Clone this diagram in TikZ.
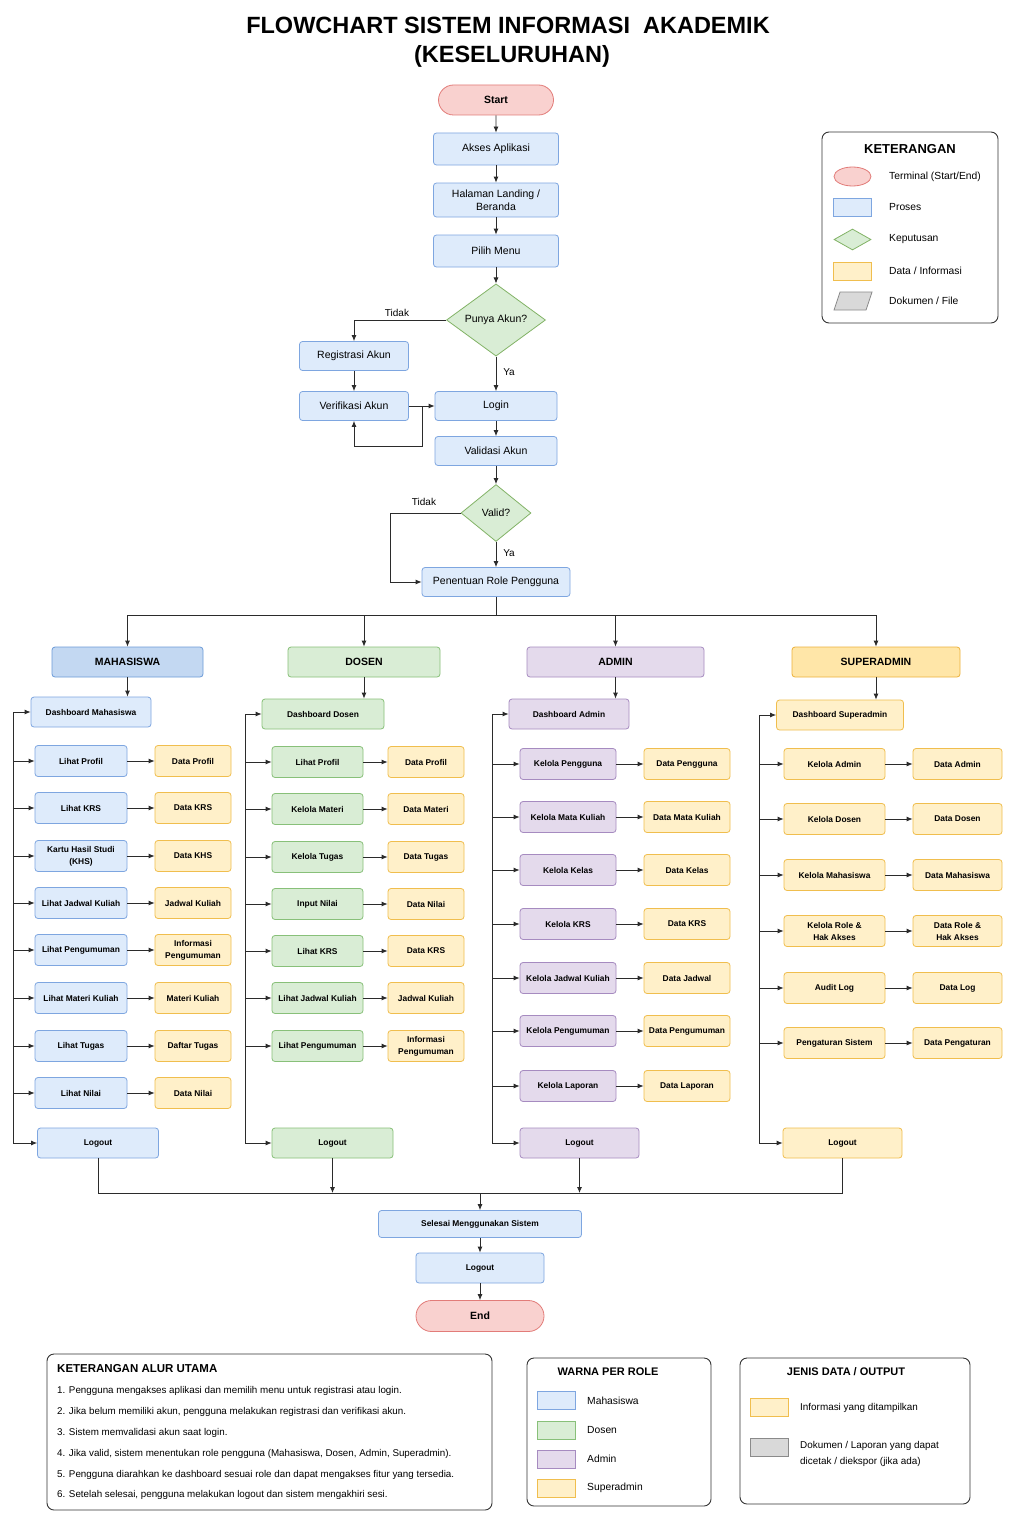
\documentclass[tikz,border=0pt]{standalone}
\usepackage{fontspec}
\setmainfont{Liberation Sans}
\usetikzlibrary{shapes.geometric,shapes.misc,arrows.meta,calc}
\definecolor{blueF}{HTML}{DEEBFB}
\definecolor{blueD}{HTML}{7EA6E0}
\definecolor{blueH}{HTML}{C3D8F2}
\definecolor{blueHD}{HTML}{6C9BD8}
\definecolor{greenF}{HTML}{D9EDD5}
\definecolor{greenD}{HTML}{88C079}
\definecolor{purpF}{HTML}{E4DAEC}
\definecolor{purpD}{HTML}{A68BC0}
\definecolor{yelF}{HTML}{FFF0C9}
\definecolor{yelD}{HTML}{F0BE4E}
\definecolor{yelH}{HTML}{FFE6A8}
\definecolor{yelHD}{HTML}{EDB23C}
\definecolor{redF}{HTML}{F9D1CF}
\definecolor{redD}{HTML}{E27C79}
\definecolor{grayF}{HTML}{D9D9D9}
\definecolor{grayD}{HTML}{8A8A8A}
\definecolor{diaF}{HTML}{D9EDD5}
\definecolor{diaD}{HTML}{82B366}
\definecolor{lineC}{HTML}{2B2B2B}
\tikzset{
  boxbase/.style={rectangle, rounded corners=3pt, line width=0.8pt, inner sep=1pt, align=center, text=black},
  flowbox/.style={boxbase, draw=blueD, fill=blueF, font=\fontsize{10.5}{13}\selectfont, minimum height=30},
  termbox/.style={rounded rectangle, draw=redD, fill=redF, line width=0.8pt, inner sep=0pt, font=\bfseries\fontsize{10.5}{12}\selectfont},
  decbox/.style={diamond, draw=diaD, fill=diaF, line width=0.8pt, inner sep=0pt, font=\fontsize{10.5}{12}\selectfont},
  smbox/.style={boxbase, font=\bfseries\fontsize{8.4}{12}\selectfont, minimum height=31},
  mpbox/.style={smbox, draw=blueD, fill=blueF, minimum width=92},
  dpbox/.style={smbox, draw=greenD, fill=greenF, minimum width=91},
  apbox/.style={smbox, draw=purpD, fill=purpF, minimum width=96},
  spbox/.style={smbox, draw=yelD, fill=yelF, minimum width=101},
  datbox/.style={smbox, draw=yelD, fill=yelF},
  hdrbox/.style={boxbase, font=\bfseries\fontsize{10.5}{12}\selectfont, minimum height=30},
  arr/.style={-{Latex[length=6pt,width=5pt]}, line width=0.8pt, draw=lineC},
  ln/.style={line width=0.8pt, draw=lineC},
  lbl/.style={font=\fontsize{10}{12}\selectfont, inner sep=0pt},
  legtxt/.style={font=\fontsize{10.3}{12}\selectfont, inner sep=0pt, anchor=west},
  noteTxt/.style={font=\fontsize{9.8}{11}\selectfont, inner sep=0pt, anchor=west},
  panel/.style={draw=black!80, rounded corners=7pt, line width=0.9pt, fill=white},
  swatch/.style={rectangle, line width=0.8pt, minimum width=38, minimum height=18, inner sep=0pt}
}
\begin{document}
\begin{tikzpicture}[x=1pt,y=-1pt]
\path[use as bounding box, fill=white] (0,0) rectangle (1024,1536);

% Title
\node[font=\bfseries\fontsize{23.5}{28}\selectfont, inner sep=0pt] (title1) at (508,25) {FLOWCHART SISTEM INFORMASI\ \ AKADEMIK};
\node[font=\bfseries\fontsize{23.5}{28}\selectfont, inner sep=0pt] (title2) at (512,56) {(KESELURUHAN)};

% Main flow
\node[termbox, minimum width=115, minimum height=30] (start) at (496,100) {Start};
\node[flowbox, minimum width=125, minimum height=32] (akses) at (496,149) {Akses Aplikasi};
\node[flowbox, minimum width=125, minimum height=34] (landing) at (496,200) {Halaman Landing /\\Beranda};
\node[flowbox, minimum width=125, minimum height=32] (pilih) at (496,251) {Pilih Menu};
\node[decbox, minimum width=99, minimum height=72] (punya) at (496,320) {Punya Akun?};
\node[flowbox, minimum width=109, minimum height=29] (regis) at (354,356) {Registrasi Akun};
\node[flowbox, minimum width=109, minimum height=29] (verif) at (354,406) {Verifikasi Akun};
\node[flowbox, minimum width=122, minimum height=29] (login) at (496,406) {Login};
\node[flowbox, minimum width=122, minimum height=29] (valid) at (496,451) {Validasi Akun};
\node[decbox, minimum width=70, minimum height=57] (validq) at (496,513) {Valid?};
\node[flowbox, minimum width=148, minimum height=29] (role) at (496,582) {Penentuan Role Pengguna};

\draw[arr] (start) -- (akses);
\draw[arr] (akses) -- (landing);
\draw[arr] (landing) -- (pilih);
\draw[arr] (pilih) -- (punya);
\draw[arr] (punya.west) -| (regis.north);
\node[lbl] (tidak1) at (397,313) {Tidak};
\draw[arr] (punya) -- (login);
\node[lbl] (ya1) at (509,372) {Ya};
\draw[arr] (regis) -- (verif);
\draw[arr] (verif) -- (login);
\coordinate (vj) at (422,406);
\coordinate (vl) at (422,446);
\draw[arr] (vj) -- (vl) -| (verif.south);
\draw[arr] (login) -- (valid);
\draw[arr] (valid) -- (validq);
\coordinate (vt) at (390,513);
\draw[arr] (validq.west) -- (vt) |- (role.west);
\node[lbl] (tidak2) at (424,502) {Tidak};
\draw[arr] (validq) -- (role);
\node[lbl] (ya2) at (509,553) {Ya};

% Role headers
\node[hdrbox, draw=blueHD, fill=blueH, minimum width=151] (mh) at (127.5,662) {MAHASISWA};
\node[hdrbox, draw=greenD, fill=greenF, minimum width=152] (dh) at (364,662) {DOSEN};
\node[hdrbox, draw=purpD, fill=purpF, minimum width=177] (ah) at (615.5,662) {ADMIN};
\node[hdrbox, draw=yelHD, fill=yelH, minimum width=168] (sh) at (876,662) {SUPERADMIN};

\coordinate (rj) at (496,615);
\coordinate (rl) at (127.5,615);
\coordinate (rr) at (876,615);
\draw[ln] (role.south) -- (rj);
\draw[ln] (rl) -- (rr);
\draw[arr] (rl) -- (mh.north);
\draw[arr] (dh.north |- rj) -- (dh.north);
\draw[arr] (ah.north |- rj) -- (ah.north);
\draw[arr] (rr) -- (sh.north);

% Dashboards
\node[mpbox, minimum width=120, minimum height=30] (mdash) at (91,712) {Dashboard Mahasiswa};
\node[dpbox, minimum width=122, minimum height=30] (ddash) at (323,714) {Dashboard Dosen};
\node[apbox, minimum width=120, minimum height=30] (adash) at (569,714) {Dashboard Admin};
\node[spbox, minimum width=127, minimum height=30] (sdash) at (840,715) {Dashboard Superadmin};
\draw[arr] (mh.south) -- (mh.south |- mdash.north);
\draw[arr] (dh.south) -- (dh.south |- ddash.north);
\draw[arr] (ah.south) -- (ah.south |- adash.north);
\draw[arr] (sh.south) -- (sh.south |- sdash.north);

% Logouts
\node[mpbox, minimum width=121, minimum height=30] (mlog) at (98,1143) {Logout};
\node[dpbox, minimum width=121, minimum height=30] (dlog) at (332.5,1143) {Logout};
\node[apbox, minimum width=119, minimum height=30] (alog) at (579.5,1143) {Logout};
\node[spbox, minimum width=119, minimum height=30] (slog) at (842.5,1143) {Logout};

% Buses
\coordinate (mbus) at (13,712);  \coordinate (mbusb) at (13,1143);
\coordinate (dbus) at (245,714); \coordinate (dbusb) at (245,1143);
\coordinate (abus) at (492,714); \coordinate (abusb) at (492,1143);
\coordinate (sbus) at (759,715); \coordinate (sbusb) at (759,1143);
\draw[ln] (mbus) -- (mbusb);
\draw[ln] (dbus) -- (dbusb);
\draw[ln] (abus) -- (abusb);
\draw[ln] (sbus) -- (sbusb);
\draw[arr] (mbus) -- (mdash.west);
\draw[arr] (dbus) -- (ddash.west);
\draw[arr] (abus) -- (adash.west);
\draw[arr] (sbus) -- (sdash.west);
\draw[arr] (mbusb) -- (mlog.west);
\draw[arr] (dbusb) -- (dlog.west);
\draw[arr] (abusb) -- (alog.west);
\draw[arr] (sbusb) -- (slog.west);

% Mahasiswa items
\foreach \yy/\aa/\bb [count=\i] in {761/Lihat Profil/Data Profil, 808/Lihat KRS/Data KRS, 856/{Kartu Hasil Studi\\(KHS)}/Data KHS, 903/Lihat Jadwal Kuliah/Jadwal Kuliah, 950/Lihat Pengumuman/{Informasi\\Pengumuman}, 998/Lihat Materi Kuliah/Materi Kuliah, 1046/Lihat Tugas/Daftar Tugas, 1093/Lihat Nilai/Data Nilai}
{
  \node[mpbox] (mp\i) at (81,\yy) {\aa};
  \node[datbox, minimum width=76] (md\i) at (193,\yy) {\bb};
  \draw[arr] (mp\i) -- (md\i);
  \draw[arr] (mp\i.west -| mbus) -- (mp\i.west);
}

% Dosen items
\foreach \yy/\aa/\bb [count=\i] in {762/Lihat Profil/Data Profil, 809/Kelola Materi/Data Materi, 857/Kelola Tugas/Data Tugas, 904/Input Nilai/Data Nilai, 951/Lihat KRS/Data KRS, 998/Lihat Jadwal Kuliah/Jadwal Kuliah, 1046/Lihat Pengumuman/{Informasi\\Pengumuman}}
{
  \node[dpbox] (dp\i) at (317.5,\yy) {\aa};
  \node[datbox, minimum width=76] (dd\i) at (426,\yy) {\bb};
  \draw[arr] (dp\i) -- (dd\i);
  \draw[arr] (dp\i.west -| dbus) -- (dp\i.west);
}

% Admin items
\foreach \yy/\aa/\bb [count=\i] in {764/Kelola Pengguna/Data Pengguna, 817/Kelola Mata Kuliah/Data Mata Kuliah, 870/Kelola Kelas/Data Kelas, 924/Kelola KRS/Data KRS, 978/Kelola Jadwal Kuliah/Data Jadwal, 1031/Kelola Pengumuman/Data Pengumuman, 1086/Kelola Laporan/Data Laporan}
{
  \node[apbox] (ap\i) at (568,\yy) {\aa};
  \node[datbox, minimum width=86] (ad\i) at (687,\yy) {\bb};
  \draw[arr] (ap\i) -- (ad\i);
  \draw[arr] (ap\i.west -| abus) -- (ap\i.west);
}

% Superadmin items
\foreach \yy/\aa/\bb [count=\i] in {764/Kelola Admin/Data Admin, 819/Kelola Dosen/Data Dosen, 875/Kelola Mahasiswa/Data Mahasiswa, 931/{Kelola Role \&\\Hak Akses}/{Data Role \&\\Hak Akses}, 988/Audit Log/Data Log, 1043/Pengaturan Sistem/Data Pengaturan}
{
  \node[spbox] (sp\i) at (834.5,\yy) {\aa};
  \node[datbox, minimum width=89] (sd\i) at (957.5,\yy) {\bb};
  \draw[arr] (sp\i) -- (sd\i);
  \draw[arr] (sp\i.west -| sbus) -- (sp\i.west);
}

% End section
\node[smbox, draw=blueD, fill=blueF, minimum width=203, minimum height=27] (sel) at (480,1224) {Selesai Menggunakan Sistem};
\node[smbox, draw=blueD, fill=blueF, minimum width=128, minimum height=30] (flog) at (480,1268) {Logout};
\node[termbox, minimum width=128, minimum height=31] (fin) at (480,1316) {End};
\coordinate (jy) at (480,1193);
\draw[ln] (mlog.south) -- (mlog.south |- jy) -- (slog.south |- jy) -- (slog.south);
\draw[arr] (dlog.south) -- (dlog.south |- jy);
\draw[arr] (alog.south) -- (alog.south |- jy);
\draw[arr] (jy) -- (sel.north);
\draw[arr] (sel) -- (flog);
\draw[arr] (flog) -- (fin);

% Legend KETERANGAN
\draw[panel] (822,132) rectangle (998,323);
\node[font=\bfseries\fontsize{13}{15}\selectfont, inner sep=0pt] (legT) at (910,149) {KETERANGAN};
\node[ellipse, draw=redD, fill=redF, line width=0.8pt, minimum width=37, minimum height=19, inner sep=0pt] (legE) at (852.5,176.5) {};
\node[swatch, draw=blueD, fill=blueF] (legP) at (852.5,207) {};
\node[diamond, draw=diaD, fill=diaF, line width=0.8pt, minimum width=37, minimum height=21, inner sep=0pt] (legD) at (852.5,239.5) {};
\node[swatch, draw=yelD, fill=yelF] (legY) at (852.5,271) {};
\draw[draw=grayD, fill=grayF, line width=0.8pt] (834,310) -- (840,292) -- (872,292) -- (866,310) -- cycle;
\node[legtxt] (legt1) at (889,177) {Terminal (Start/End)};
\node[legtxt] (legt2) at (889,207) {Proses};
\node[legtxt] (legt3) at (889,239) {Keputusan};
\node[legtxt] (legt4) at (889,271) {Data / Informasi};
\node[legtxt] (legt5) at (889,301) {Dokumen / File};

% Bottom: Keterangan alur utama
\draw[panel] (47,1354) rectangle (492,1510);
\node[font=\bfseries\fontsize{11.5}{14}\selectfont, inner sep=0pt, anchor=west] (alurT) at (57,1369) {KETERANGAN ALUR UTAMA};
\node[noteTxt] (n1) at (57,1391) {1. Pengguna mengakses aplikasi dan memilih menu untuk registrasi atau login.};
\node[noteTxt] (n2) at (57,1412) {2. Jika belum memiliki akun, pengguna melakukan registrasi dan verifikasi akun.};
\node[noteTxt] (n3) at (57,1433) {3. Sistem memvalidasi akun saat login.};
\node[noteTxt] (n4) at (57,1454) {4. Jika valid, sistem menentukan role pengguna (Mahasiswa, Dosen, Admin, Superadmin).};
\node[noteTxt] (n5) at (57,1475) {5. Pengguna diarahkan ke dashboard sesuai role dan dapat mengakses fitur yang tersedia.};
\node[noteTxt] (n6) at (57,1495) {6. Setelah selesai, pengguna melakukan logout dan sistem mengakhiri sesi.};

% Bottom: warna per role
\draw[panel] (527,1358) rectangle (711,1506);
\node[font=\bfseries\fontsize{11}{13}\selectfont, inner sep=0pt] (warnaT) at (608,1372) {WARNA PER ROLE};
\node[swatch, draw=blueD, fill=blueF] (w1) at (556,1400) {};
\node[swatch, draw=greenD, fill=greenF] (w2) at (556,1430) {};
\node[swatch, draw=purpD, fill=purpF] (w3) at (556,1459) {};
\node[swatch, draw=yelD, fill=yelF] (w4) at (556,1488) {};
\node[legtxt] (wt1) at (587,1401) {Mahasiswa};
\node[legtxt] (wt2) at (587,1430) {Dosen};
\node[legtxt] (wt3) at (587,1459) {Admin};
\node[legtxt] (wt4) at (587,1488) {Superadmin};

% Bottom: jenis data
\draw[panel] (740,1358) rectangle (970,1504);
\node[font=\bfseries\fontsize{11}{13}\selectfont, inner sep=0pt] (jenisT) at (846,1372) {JENIS DATA / OUTPUT};
\node[swatch, draw=yelD, fill=yelF] (j1) at (769.5,1407) {};
\node[swatch, draw=grayD, fill=grayF] (j2) at (769.5,1447) {};
\node[font=\fontsize{9.9}{11}\selectfont, inner sep=0pt, anchor=west] (jt1) at (800,1408) {Informasi yang ditampilkan};
\node[font=\fontsize{9.9}{15.5}\selectfont, inner sep=0pt, anchor=west, align=left] (jt2) at (800,1454) {Dokumen / Laporan yang dapat\\dicetak / diekspor (jika ada)};
\end{tikzpicture}
\end{document}
